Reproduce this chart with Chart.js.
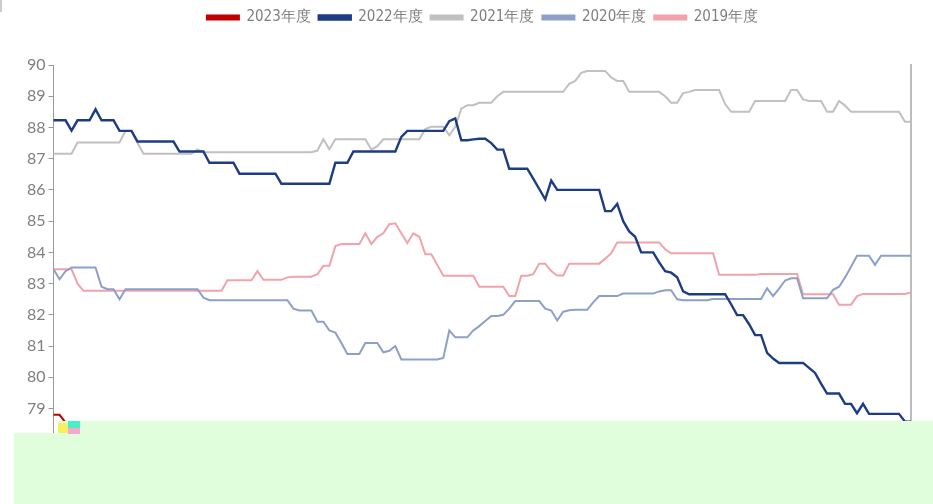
<!DOCTYPE html>
<html>
<head>
<meta charset="utf-8">
<script src="https://cdn.jsdelivr.net/npm/chart.js@4.4.0/dist/chart.umd.min.js"></script>
<style>
  html, body { margin: 0; padding: 0; background: #fff; }
</style>
</head>
<body>
<canvas id="chart" width="933" height="504"></canvas>
<script>
const days = Array.from({ length: 144 }, (_, i) => i + 1);

const y2023 = [78.8, 78.8, 78.55, 78.5, 78.5, 78.5, 78.35, 78.17, 78.17, 78.17, 78.17, 78.17, 78.17, 77.95, 78.17, 78.17];

const y2022 = [
  88.23, 88.23, 88.23, 87.9, 88.23, 88.23, 88.23, 88.58, 88.23, 88.23,
  88.23, 87.89, 87.89, 87.89, 87.55, 87.55, 87.55, 87.55, 87.55, 87.55,
  87.55, 87.23, 87.23, 87.23, 87.23, 87.23, 86.87, 86.87, 86.87, 86.87,
  86.87, 86.52, 86.52, 86.52, 86.52, 86.52, 86.52, 86.52, 86.2, 86.2,
  86.2, 86.2, 86.2, 86.2, 86.2, 86.2, 86.2, 86.87, 86.87, 86.87,
  87.23, 87.23, 87.23, 87.23, 87.23, 87.23, 87.23, 87.23, 87.7, 87.89,
  87.89, 87.89, 87.89, 87.89, 87.89, 87.89, 88.2, 88.29, 87.59, 87.59,
  87.62, 87.64, 87.64, 87.5, 87.29, 87.29, 86.68, 86.68, 86.68, 86.68,
  86.36, 86.03, 85.7, 86.3, 86.0, 86.0, 86.0, 86.0, 86.0, 86.0,
  86.0, 86.0, 85.32, 85.32, 85.55, 85.0, 84.67, 84.5, 84.0, 84.0,
  84.0, 83.68, 83.4, 83.35, 83.2, 82.75, 82.66, 82.66, 82.66, 82.66,
  82.66, 82.66, 82.66, 82.34, 81.99, 81.99, 81.7, 81.35, 81.35, 80.78,
  80.6, 80.46, 80.46, 80.46, 80.46, 80.46, 80.3, 80.14, 79.8, 79.48,
  79.48, 79.48, 79.15, 79.15, 78.85, 79.15, 78.83, 78.83, 78.83, 78.83,
  78.83, 78.83, 78.58, 78.58
];

const y2021 = [
  87.16, 87.16, 87.16, 87.16, 87.52, 87.52, 87.52, 87.52, 87.52, 87.52,
  87.52, 87.52, 87.89, 87.89, 87.5, 87.16, 87.16, 87.16, 87.16, 87.16,
  87.16, 87.16, 87.16, 87.16, 87.3, 87.21, 87.21, 87.21, 87.21, 87.21,
  87.21, 87.21, 87.21, 87.21, 87.21, 87.21, 87.21, 87.21, 87.21, 87.21,
  87.21, 87.21, 87.21, 87.21, 87.26, 87.62, 87.3, 87.62, 87.62, 87.62,
  87.62, 87.62, 87.62, 87.29, 87.4, 87.62, 87.62, 87.62, 87.62, 87.62,
  87.62, 87.62, 87.95, 88.02, 88.02, 88.02, 87.75, 88.02, 88.6, 88.71,
  88.71, 88.79, 88.79, 88.79, 89.0, 89.14, 89.14, 89.14, 89.14, 89.14,
  89.14, 89.14, 89.14, 89.14, 89.14, 89.14, 89.4, 89.49, 89.75, 89.81,
  89.81, 89.81, 89.81, 89.6, 89.49, 89.49, 89.14, 89.14, 89.14, 89.14,
  89.14, 89.14, 89.0, 88.79, 88.79, 89.1, 89.14, 89.2, 89.2, 89.2,
  89.2, 89.2, 88.75, 88.5, 88.5, 88.5, 88.5, 88.85, 88.85, 88.85,
  88.85, 88.85, 88.85, 89.2, 89.2, 88.9, 88.85, 88.85, 88.85, 88.5,
  88.5, 88.85, 88.7, 88.5, 88.5, 88.5, 88.5, 88.5, 88.5, 88.5,
  88.5, 88.5, 88.18, 88.18
];

const y2020 = [
  83.46, 83.14, 83.4, 83.52, 83.52, 83.52, 83.52, 83.52, 82.9, 82.82,
  82.82, 82.5, 82.82, 82.82, 82.82, 82.82, 82.82, 82.82, 82.82, 82.82,
  82.82, 82.82, 82.82, 82.82, 82.82, 82.55, 82.47, 82.47, 82.47, 82.47,
  82.47, 82.47, 82.47, 82.47, 82.47, 82.47, 82.47, 82.47, 82.47, 82.47,
  82.2, 82.14, 82.14, 82.14, 81.78, 81.78, 81.5, 81.43, 81.1, 80.75,
  80.75, 80.75, 81.1, 81.1, 81.1, 80.8, 80.85, 81.0, 80.57, 80.57,
  80.57, 80.57, 80.57, 80.57, 80.57, 80.62, 81.5, 81.28, 81.28, 81.28,
  81.5, 81.64, 81.8, 81.96, 81.96, 82.0, 82.2, 82.44, 82.44, 82.44,
  82.44, 82.44, 82.2, 82.14, 81.82, 82.1, 82.15, 82.16, 82.16, 82.16,
  82.4, 82.6, 82.6, 82.6, 82.6, 82.68, 82.68, 82.68, 82.68, 82.68,
  82.68, 82.75, 82.79, 82.79, 82.5, 82.47, 82.47, 82.47, 82.47, 82.47,
  82.51, 82.51, 82.51, 82.51, 82.51, 82.51, 82.51, 82.51, 82.51, 82.85,
  82.6, 82.84, 83.1, 83.17, 83.17, 82.53, 82.53, 82.53, 82.53, 82.53,
  82.8, 82.9, 83.2, 83.54, 83.89, 83.89, 83.89, 83.6, 83.89, 83.89,
  83.89, 83.89, 83.89, 83.89
];

const y2019 = [
  83.46, 83.46, 83.46, 83.46, 83.0, 82.77, 82.77, 82.77, 82.77, 82.77,
  82.77, 82.77, 82.77, 82.77, 82.77, 82.77, 82.77, 82.77, 82.77, 82.77,
  82.77, 82.77, 82.77, 82.77, 82.77, 82.77, 82.77, 82.77, 82.77, 83.11,
  83.11, 83.11, 83.11, 83.11, 83.4, 83.12, 83.12, 83.12, 83.12, 83.2,
  83.22, 83.22, 83.22, 83.22, 83.3, 83.57, 83.57, 84.2, 84.27, 84.27,
  84.27, 84.27, 84.61, 84.27, 84.5, 84.61, 84.9, 84.93, 84.61, 84.3,
  84.61, 84.5, 83.94, 83.94, 83.6, 83.25, 83.25, 83.25, 83.25, 83.25,
  83.25, 82.9, 82.9, 82.9, 82.9, 82.9, 82.6, 82.6, 83.25, 83.25,
  83.3, 83.64, 83.64, 83.4, 83.26, 83.26, 83.64, 83.64, 83.64, 83.64,
  83.64, 83.64, 83.8, 83.97, 84.32, 84.32, 84.32, 84.32, 84.32, 84.32,
  84.32, 84.32, 84.1, 83.97, 83.97, 83.97, 83.97, 83.97, 83.97, 83.97,
  83.97, 83.28, 83.28, 83.28, 83.28, 83.28, 83.28, 83.28, 83.31, 83.31,
  83.31, 83.31, 83.31, 83.31, 83.31, 82.66, 82.66, 82.66, 82.66, 82.66,
  82.66, 82.32, 82.32, 82.32, 82.6, 82.67, 82.67, 82.67, 82.67, 82.67,
  82.67, 82.67, 82.67, 82.72
];

// extra space under the legend, and legend centred a little right
const legendGap = {
  id: 'legendGap',
  beforeInit(chart) {
    const fit = chart.legend.fit;
    chart.legend.fit = function () {
      fit.bind(chart.legend)();
      this.height += 30;
    };
  },
  afterLayout(chart) {
    chart.legend.left += 15;
    chart.legend.right += 15;
  }
};

// pale block that covers the bottom of the source picture
const coverPlugin = {
  id: 'cover',
  afterDraw(chart) {
    const ctx = chart.ctx;
    ctx.save();
    ctx.fillStyle = '#e0fedc';
    ctx.fillRect(14, 433, 919, 71);
    ctx.fillRect(58, 421, 875, 12);
    ctx.fillStyle = '#f4f060';
    ctx.fillRect(58, 423, 10, 10);
    ctx.fillStyle = '#48f0c8';
    ctx.fillRect(68, 421, 12, 7);
    ctx.fillStyle = '#f8a8cc';
    ctx.fillRect(68, 428, 12, 6);
    ctx.fillStyle = '#cccccc';
    ctx.fillRect(0, 0, 2, 12);
    ctx.restore();
  }
};

function line(label, data, color, width) {
  return {
    label: label,
    data: data,
    borderColor: color,
    backgroundColor: color,
    borderWidth: width,
    pointRadius: 0,
    tension: 0,
    fill: false
  };
}

new Chart(document.getElementById('chart'), {
  type: 'line',
  data: {
    labels: days,
    datasets: [
      line('2023年度', y2023, '#c00000', 2),
      line('2022年度', y2022, '#1c3c85', 2.4),
      line('2021年度', y2021, '#c0c0c0', 2),
      line('2020年度', y2020, '#8da0c8', 2),
      line('2019年度', y2019, '#f2a2aa', 2)
    ]
  },
  options: {
    responsive: false,
    animation: false,
    layout: { padding: { left: 24, right: 22, top: 2, bottom: 33 } },
    plugins: {
      tooltip: { enabled: false },
      legend: {
        position: 'top',
        labels: {
          boxWidth: 32,
          boxHeight: 4,
          padding: 8,
          color: '#7f7f7f',
          font: { family: "'DejaVu Sans Condensed', 'DejaVu Sans', sans-serif", weight: 'condensed', size: 15 }
        }
      }
    },
    scales: {
      x: { display: false },
      y: {
        min: 77,
        max: 90,
        ticks: {
          stepSize: 1,
          color: '#808080',
          padding: 3,
          font: { family: 'Lato', size: 16 }
        },
        grid: { drawOnChartArea: false, drawTicks: true, tickLength: 5, color: '#999' },
        border: { color: '#999', width: 1 }
      },
      y2: {
        position: 'right',
        min: 77,
        max: 90,
        ticks: { display: false },
        grid: { drawOnChartArea: false, drawTicks: false },
        border: { color: '#bdbdbd', width: 2 }
      }
    }
  },
  plugins: [legendGap, coverPlugin]
});
</script>
</body>
</html>
